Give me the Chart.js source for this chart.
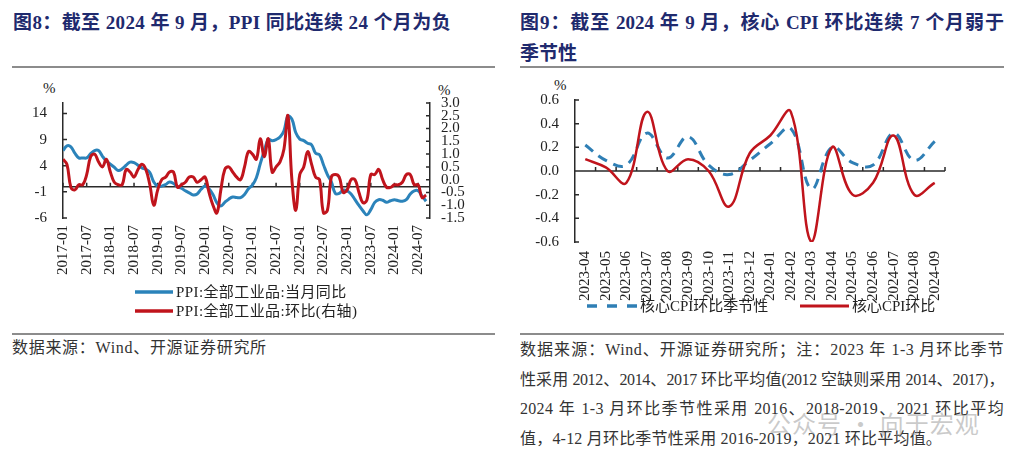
<!DOCTYPE html>
<html lang="zh-CN">
<head>
<meta charset="utf-8">
<script src="https://cdn.jsdelivr.net/npm/chart.js@4.4.1/dist/chart.umd.min.js"></script>
<style>
  html, body { margin: 0; padding: 0; background: #fff; }
  body {
    width: 1024px; height: 458px; position: relative; overflow: hidden;
    font-family: 'Liberation Serif', 'Noto Sans CJK SC', serif; color: #222;
  }
  .title { position: absolute; font-weight: bold; font-size: 19px; line-height: 31px; color: #1f2a6e; white-space: nowrap; }
  .just { text-align: justify; text-align-last: justify; white-space: nowrap; }
  .rule { position: absolute; height: 2px; background: #8c8c8c; }
  .note { position: absolute; font-size: 16px; line-height: 29.5px; color: #333; }
  .unit { position: absolute; font-size: 15px; line-height: 16px; }
  .leg { position: absolute; display: flex; align-items: center; font-size: 15px; line-height: 18px; white-space: nowrap; }
  .leg svg { display: block; margin-right: 3px; }
  canvas { position: absolute; }
  .wm { position: absolute; font-size: 24px; letter-spacing: 1px; color: rgba(150,150,150,0.5); font-family: 'Noto Sans CJK SC', sans-serif; }
</style>
</head>
<body>

<div class="title" style="left:13px; top:7px; letter-spacing:0.4px;">图8：截至 2024 年 9 月，PPI 同比连续 24 个月为负</div>
<div class="title" style="left:520px; top:7px; width:484px;">
  <div class="just">图9：截至 2024 年 9 月，核心 CPI 环比连续 7 个月弱于</div>
  <div>季节性</div>
</div>
<div class="rule" style="left:12px; top:66px; width:483px;"></div>
<div class="rule" style="left:520px; top:66px; width:484px;"></div>

<div class="unit" style="left:43px; top:80px;">%</div>
<div class="unit" style="left:438px; top:82px;">%</div>
<div class="unit" style="left:554px; top:77px;">%</div>

<canvas id="ppiChart" width="512" height="212" style="left:0; top:75px;"></canvas>
<canvas id="cpiChart" width="512" height="235" style="left:512px; top:75px;"></canvas>

<div class="leg" style="left:135px; top:283px; letter-spacing:0.4px;">
  <svg width="38" height="18"><line x1="0" y1="9" x2="38" y2="9" stroke="#2b83ba" stroke-width="3.5"/></svg>
  <span>PPI:全部工业品:当月同比</span>
</div>
<div class="leg" style="left:135px; top:302px; letter-spacing:0.4px;">
  <svg width="38" height="18"><line x1="0" y1="9" x2="38" y2="9" stroke="#c0141c" stroke-width="3.5"/></svg>
  <span>PPI:全部工业品:环比(右轴)</span>
</div>

<div class="leg" style="left:587px; top:297px;">
  <svg width="50" height="18"><line x1="0" y1="9" x2="50" y2="9" stroke="#2f7fb5" stroke-width="3.5" stroke-dasharray="10 10"/></svg>
  <span>核心CPI环比季节性</span>
</div>
<div class="leg" style="left:800px; top:297px;">
  <svg width="49" height="18"><line x1="0" y1="9" x2="49" y2="9" stroke="#c0141c" stroke-width="3"/></svg>
  <span>核心CPI环比</span>
</div>

<div class="rule" style="left:12px; top:333px; width:483px;"></div>
<div class="rule" style="left:520px; top:333px; width:484px;"></div>

<div class="note" style="left:12px; top:333px; letter-spacing:0.7px;">数据来源：Wind、开源证券研究所</div>
<div class="note" style="left:520px; top:335px; width:484px;">
  <div class="just" style="letter-spacing:0.5px;">数据来源：Wind、开源证券研究所；注：2023 年 1-3 月环比季节</div>
  <div class="just" style="letter-spacing:-0.4px;">性采用 2012、2014、2017 环比平均值(2012 空缺则采用 2014、2017)，</div>
  <div class="just" style="letter-spacing:0.3px;">2024 年 1-3 月环比季节性采用 2016、2018-2019、2021 环比平均</div>
  <div style="letter-spacing:0.2px;">值，4-12 月环比季节性采用 2016-2019，2021 环比平均值。</div>
</div>
<div class="wm" style="left:767px; top:405px;">公众号 · 向于宏观</div>

<script>
// 图8: PPI 2017-01 ~ 2024-09
const ppiMonths = [];
for (let y = 2017; y <= 2024; y++) {
    for (let m = 1; m <= 12; m++) {
        if (y === 2024 && m > 9) break;
        ppiMonths.push(y + '-' + String(m).padStart(2, '0'));
    }
}

const ppiYoy = [
    6.9, 7.8, 7.6, 6.4, 5.5, 5.5, 5.5, 6.3, 6.9, 6.9, 5.8, 4.9,
    4.3, 3.7, 3.1, 3.4, 4.1, 4.7, 4.6, 4.1, 3.6, 3.3, 2.7, 0.9,
    0.1, 0.1, 0.4, 0.9, 0.6, 0.0, -0.3, -0.8, -1.2, -1.6, -1.4, -0.5,
    0.1, -0.4, -1.5, -3.1, -3.7, -3.0, -2.4, -2.0, -2.1, -2.1, -1.5, -0.4,
    0.3, 1.7, 4.4, 6.8, 9.0, 8.8, 9.0, 9.5, 10.7, 13.5, 12.9, 10.3,
    9.1, 8.8, 8.3, 8.0, 6.4, 6.1, 4.2, 2.3, 0.9, -1.3, -1.3, -0.7,
    -0.8, -1.4, -2.5, -3.6, -4.6, -5.4, -4.4, -3.0, -2.5, -2.6, -3.0, -2.7,
    -2.5, -2.7, -2.8, -2.5, -1.4, -0.8, -0.8, -1.8, -2.8
];

const ppiMom = [
    0.8, 0.6, -0.3, -0.4, -0.2, -0.2, 0.2, 0.9, 1.0, 0.7, 0.5, 0.8,
    0.3, -0.1, -0.2, -0.2, 0.4, 0.3, 0.1, 0.4, 0.6, 0.4, -0.2, -1.0,
    -0.4, 0.0, 0.1, 0.3, 0.3, -0.3, -0.2, -0.1, 0.1, 0.1, -0.1, 0.0,
    0.1, -0.5, -1.0, -1.3, -0.4, 0.4, 0.5, 0.3, 0.1, 0.0, 0.5, 1.1,
    1.0, 0.8, 1.6, 0.9, 1.6, 0.3, 0.5, 0.7, 1.2, 2.5, 0.0, -1.2,
    0.2, 0.5, 1.1, 0.6, 0.1, 0.0, -1.3, -1.2, 0.1, 0.2, 0.1, -0.5,
    -0.4, 0.0, 0.0, -0.5, -0.9, -0.8, 0.2, 0.2, 0.4, 0.0, -0.3, -0.3,
    -0.2, -0.2, -0.1, 0.2, 0.2, -0.2, -0.2, -0.7, -0.6
];

const ppiLeftTicks = [-6, -1, 4, 9, 14];
const ppiRightTicks = [-1.5, -1.0, -0.5, 0.0, 0.5, 1.0, 1.5, 2.0, 2.5, 3.0];
const ppiXTicks = ppiMonths.map((m, i) => i).filter(i => i % 6 === 0);

// 图9: 核心CPI环比
const cpiMonths = [
    '2023-04', '2023-05', '2023-06', '2023-07', '2023-08', '2023-09',
    '2023-10', '2023-11', '2023-12', '2024-01', '2024-02', '2024-03',
    '2024-04', '2024-05', '2024-06', '2024-07', '2024-08', '2024-09'
];
const coreCpiSeasonal = [0.22, 0.09, 0.05, 0.32, 0.11, 0.29, 0.05, -0.03, 0.09, 0.23, 0.36, -0.15, 0.20, 0.07, 0.05, 0.32, 0.09, 0.25];
const coreCpi = [0.1, 0.03, -0.1, 0.5, 0.0, 0.1, 0.0, -0.3, 0.15, 0.3, 0.5, -0.6, 0.2, -0.2, -0.1, 0.3, -0.2, -0.1];

const BLUE = '#2b83ba';
const RED = '#c0141c';
const AXIS = '#2a2a2a';
const FONT = "'Liberation Serif', 'Noto Sans CJK SC', serif";

// zero line, ticks on it, and inward ticks on the y axes
const axisMarks = {
    id: 'axisMarks',
    beforeDatasetsDraw(chart, args, opts) {
        const { ctx, chartArea: a, scales } = chart;
        const x = scales.x, y = scales.y;
        const y0 = y.getPixelForValue(0);
        ctx.save();
        ctx.strokeStyle = AXIS;
        ctx.lineWidth = 1.5;
        ctx.beginPath();
        ctx.moveTo(a.left, y0);
        ctx.lineTo(a.right, y0);
        if (opts.boundary) {
            const step = x.getPixelForValue(1) - x.getPixelForValue(0);
            for (let i = 1; i <= chart.data.labels.length; i++) {
                const px = x.getPixelForValue(i) - step / 2;
                ctx.moveTo(px, y0);
                ctx.lineTo(px, y0 - 4);
            }
        } else {
            x.ticks.forEach(t => {
                const px = x.getPixelForValue(t.value);
                ctx.moveTo(px, y0);
                ctx.lineTo(px, y0 - 4);
            });
        }
        y.ticks.forEach(t => {
            const py = y.getPixelForValue(t.value);
            ctx.moveTo(a.left, py);
            ctx.lineTo(a.left + 4, py);
        });
        if (scales.y1) {
            scales.y1.ticks.forEach(t => {
                const py = scales.y1.getPixelForValue(t.value);
                ctx.moveTo(a.right, py);
                ctx.lineTo(a.right - 4, py);
            });
        }
        ctx.stroke();
        ctx.restore();
    }
};

const tickFont = { family: FONT, size: 15 };

new Chart(document.getElementById('ppiChart'), {
    type: 'line',
    data: {
        datasets: [
            {
                label: 'PPI:全部工业品:环比(右轴)',
                data: ppiMom.map((v, i) => ({ x: i, y: v })),
                yAxisID: 'y1',
                borderColor: RED,
                borderWidth: 3,
                pointRadius: 0,
                tension: 0.4
            },
            {
                label: 'PPI:全部工业品:当月同比',
                data: ppiYoy.map((v, i) => ({ x: i, y: v })),
                yAxisID: 'y',
                borderColor: BLUE,
                borderWidth: 3,
                pointRadius: 0,
                tension: 0.4
            }
        ]
    },
    options: {
        responsive: false,
        animation: false,
        devicePixelRatio: 1,
        layout: { padding: { top: 28, left: 0, right: 0, bottom: 0 } },
        plugins: {
            legend: { display: false },
            tooltip: { enabled: false },
            axisMarks: { boundary: false }
        },
        scales: {
            x: {
                type: 'linear',
                min: 0,
                max: 93,
                afterBuildTicks: s => { s.ticks = ppiXTicks.map(v => ({ value: v })); },
                afterFit: s => { s.height = 69; },
                grid: { display: false, drawTicks: false },
                border: { display: false },
                ticks: {
                    autoSkip: false,
                    minRotation: 90,
                    maxRotation: 90,
                    padding: 7,
                    color: '#222',
                    font: tickFont,
                    callback: v => ppiMonths[v]
                }
            },
            y: {
                position: 'left',
                min: -6,
                max: 16,
                afterBuildTicks: s => { s.ticks = ppiLeftTicks.map(v => ({ value: v })); },
                afterFit: s => { s.width = 63; },
                grid: { display: false, drawTicks: false },
                border: { display: true, color: AXIS, width: 1.5 },
                ticks: { autoSkip: false, padding: 16, color: '#222', font: tickFont }
            },
            y1: {
                position: 'right',
                min: -1.5,
                max: 3.0,
                afterBuildTicks: s => { s.ticks = ppiRightTicks.map(v => ({ value: v })); },
                afterFit: s => { s.width = 82; },
                grid: { display: false, drawTicks: false },
                border: { display: true, color: AXIS, width: 1.5 },
                ticks: { autoSkip: false, padding: 11, color: '#222', font: tickFont, callback: v => v.toFixed(1) }
            }
        }
    },
    plugins: [axisMarks]
});

new Chart(document.getElementById('cpiChart'), {
    type: 'line',
    data: {
        labels: cpiMonths,
        datasets: [
            {
                label: '核心CPI环比',
                data: coreCpi,
                borderColor: RED,
                borderWidth: 2.5,
                pointRadius: 0,
                tension: 0.4
            },
            {
                label: '核心CPI环比季节性',
                data: coreCpiSeasonal,
                borderColor: '#2f7fb5',
                borderWidth: 3,
                borderDash: [10, 7],
                pointRadius: 0,
                tension: 0.4
            }
        ]
    },
    options: {
        responsive: false,
        animation: false,
        devicePixelRatio: 1,
        layout: { padding: { top: 25, left: 0, right: 79, bottom: 0 } },
        plugins: {
            legend: { display: false },
            tooltip: { enabled: false },
            axisMarks: { boundary: true }
        },
        scales: {
            x: {
                offset: true,
                afterFit: s => { s.height = 68; },
                grid: { display: false, drawTicks: false, offset: true },
                border: { display: false },
                ticks: {
                    autoSkip: false,
                    minRotation: 90,
                    maxRotation: 90,
                    padding: 9,
                    color: '#222',
                    font: tickFont
                }
            },
            y: {
                min: -0.6,
                max: 0.6,
                ticks: { autoSkip: false, stepSize: 0.2, padding: 16, color: '#222', font: tickFont, callback: v => v.toFixed(1) },
                afterFit: s => { s.width = 63; },
                grid: { display: false, drawTicks: false },
                border: { display: true, color: AXIS, width: 1.5 }
            }
        }
    },
    plugins: [axisMarks]
});
</script>
</body>
</html>
